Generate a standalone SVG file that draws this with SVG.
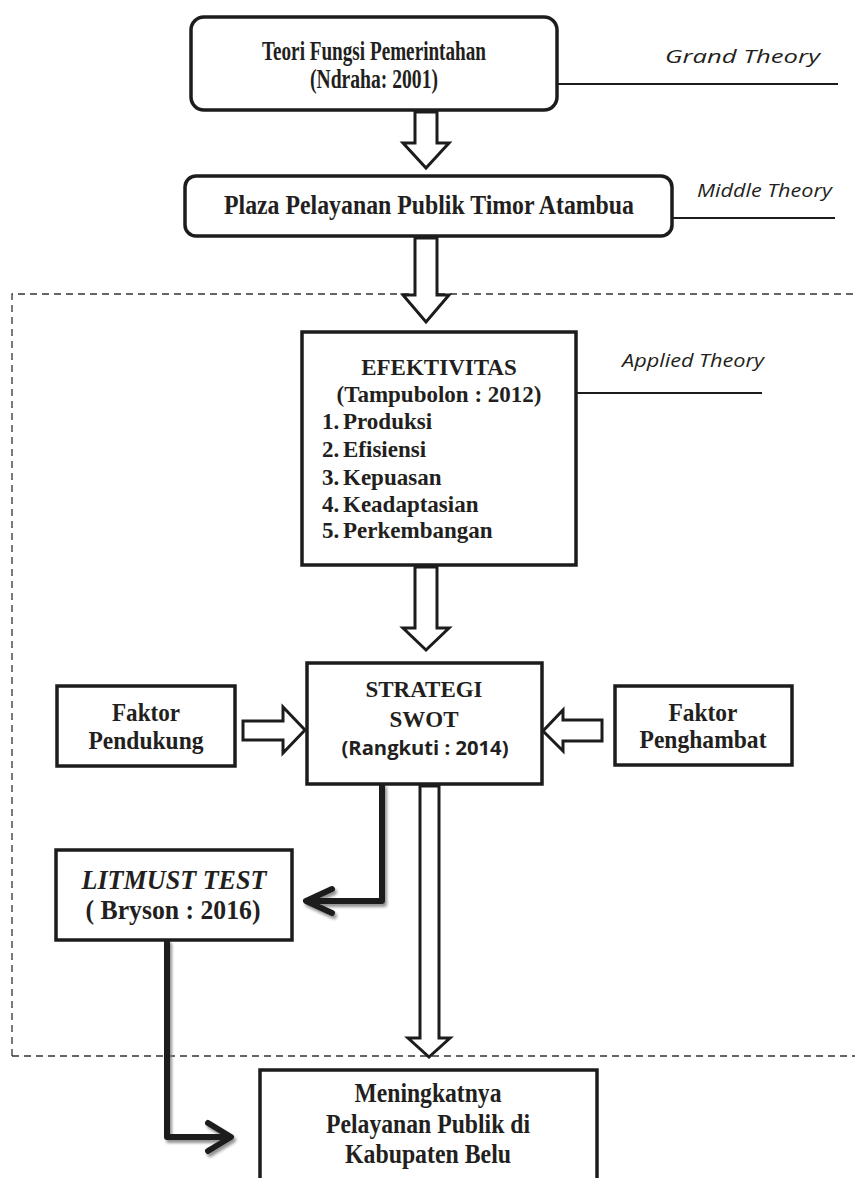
<svg xmlns="http://www.w3.org/2000/svg" width="855" height="1178" viewBox="0 0 855 1178">
<style>
.box{fill:#fff;stroke:#1c1c1c;stroke-width:3.5}
.ha{fill:#fff;stroke:#1c1c1c;stroke-width:3;stroke-linejoin:miter}
.t{font-family:"Liberation Serif","Times New Roman",serif;font-weight:bold;font-size:23px;fill:#231f20;text-anchor:middle}
.tl{font-family:"Liberation Serif","Times New Roman",serif;font-weight:bold;font-size:23px;fill:#231f20}
.c{font-size:27px}
.c26{font-size:26px}
.s{font-family:"Open Sans","Liberation Sans",sans-serif;font-weight:bold;font-size:20px;fill:#231f20;text-anchor:middle}
.lbl{font-family:"Open Sans","Liberation Sans",sans-serif;font-style:italic;font-size:18px;fill:#231f20}
.ln{stroke:#1c1c1c;stroke-width:1.8;fill:none}
.thick{fill:none;stroke:#1c1c1c;stroke-width:6;stroke-linejoin:round;stroke-linecap:round}
.dash{fill:none;stroke:#333;stroke-width:1.3;stroke-dasharray:7 5}
</style>
<defs>
<filter id="sh" x="-20%" y="-20%" width="140%" height="140%">
<feDropShadow dx="2" dy="3" stdDeviation="1.8" flood-color="#777" flood-opacity="0.8"/>
</filter>
</defs>
<rect width="855" height="1178" fill="#fff"/>
<path class="dash" d="M12 1056 V294 H855 M12 1056 H855"/>

<g id="connectors">
<polygon class="ha" points="415,112 437,112 437,143 449,143 426,168 403,143 415,143"/>
<polygon class="ha" points="415,238 437,238 437,295 449,295 426,322 403,295 415,295"/>
<polygon class="ha" points="415,567 437,567 437,628 449,628 426,650 403,628 415,628"/>
<polygon class="ha" points="243,721 283,721 283,707 305,730 283,753 283,740 243,740"/>
<polygon class="ha" points="602,720 563,720 563,710 543,731 563,751 563,741 602,741"/>
<polygon class="ha" points="420,786 439,786 439,1038 450,1038 429,1057 408,1038 420,1038"/>
<g filter="url(#sh)">
<path class="thick" d="M382 786 V901 H307 M332 889 L306 901 L332 913"/>
<path class="thick" d="M167 942 V1137 H230 M208 1123 L231 1137 L208 1151"/>
</g>
<line class="ln" x1="557" y1="84" x2="838" y2="84"/>
<line class="ln" x1="672" y1="218" x2="835" y2="218"/>
<line class="ln" x1="577" y1="393" x2="762" y2="393"/>
</g>

<g id="grand-theory">
<rect class="box" x="191" y="17" width="366" height="93" rx="13"/>
<text class="t c" x="374" y="60" textLength="224" lengthAdjust="spacingAndGlyphs">Teori Fungsi Pemerintahan</text>
<text class="t c" x="374" y="88" textLength="128" lengthAdjust="spacingAndGlyphs">(Ndraha: 2001)</text>
<text class="lbl" x="665" y="63" textLength="155" lengthAdjust="spacingAndGlyphs">Grand Theory</text>
</g>

<g id="middle-theory">
<rect class="box" x="185" y="176" width="487" height="60" rx="11"/>
<text class="t c" x="429" y="214" textLength="410" lengthAdjust="spacingAndGlyphs">Plaza Pelayanan Publik Timor Atambua</text>
<text class="lbl" x="697" y="197" textLength="135" lengthAdjust="spacingAndGlyphs">Middle Theory</text>
</g>

<g id="efektivitas">
<rect class="box" x="302" y="332" width="274" height="233"/>
<text class="t" x="439" y="375">EFEKTIVITAS</text>
<text class="t" x="439" y="402">(Tampubolon : 2012)</text>
<text class="tl" y="429"><tspan x="322">1.</tspan><tspan x="343">Produksi</tspan></text>
<text class="tl" y="457"><tspan x="322">2.</tspan><tspan x="343">Efisiensi</tspan></text>
<text class="tl" y="485"><tspan x="322">3.</tspan><tspan x="343">Kepuasan</tspan></text>
<text class="tl" y="512"><tspan x="322">4.</tspan><tspan x="343">Keadaptasian</tspan></text>
<text class="tl" y="538"><tspan x="322">5.</tspan><tspan x="343">Perkembangan</tspan></text>
<text class="lbl" x="622" y="367" textLength="142" lengthAdjust="spacingAndGlyphs">Applied Theory</text>
</g>

<g id="strategi-swot">
<rect class="box" x="307" y="663" width="235" height="121"/>
<text class="t" x="424" y="697">STRATEGI</text>
<text class="t" x="424" y="727">SWOT</text>
<text class="s" x="425" y="755" textLength="167" lengthAdjust="spacingAndGlyphs">(Rangkuti : 2014)</text>
</g>

<g id="faktor-pendukung">
<rect class="box" x="57" y="686" width="178" height="80"/>
<text class="t c26" x="146" y="721" textLength="68" lengthAdjust="spacingAndGlyphs">Faktor</text>
<text class="t c26" x="146" y="749" textLength="115" lengthAdjust="spacingAndGlyphs">Pendukung</text>
</g>

<g id="faktor-penghambat">
<rect class="box" x="615" y="686" width="177" height="79"/>
<text class="t c26" x="703" y="721" textLength="69" lengthAdjust="spacingAndGlyphs">Faktor</text>
<text class="t c26" x="703" y="748" textLength="127" lengthAdjust="spacingAndGlyphs">Penghambat</text>
</g>

<g id="litmust-test">
<rect class="box" x="56" y="850" width="236" height="90"/>
<text class="t c" x="174" y="889" font-style="italic" textLength="185" lengthAdjust="spacingAndGlyphs">LITMUST TEST</text>
<text class="t c" x="173" y="919" textLength="175" lengthAdjust="spacingAndGlyphs">( Bryson : 2016)</text>
</g>

<g id="meningkatnya">
<rect class="box" x="260" y="1070" width="337" height="130"/>
<text class="t c" x="428" y="1102" textLength="147" lengthAdjust="spacingAndGlyphs">Meningkatnya</text>
<text class="t c" x="428" y="1133" textLength="204" lengthAdjust="spacingAndGlyphs">Pelayanan Publik di</text>
<text class="t c" x="428" y="1163" textLength="166" lengthAdjust="spacingAndGlyphs">Kabupaten Belu</text>
</g>
</svg>
